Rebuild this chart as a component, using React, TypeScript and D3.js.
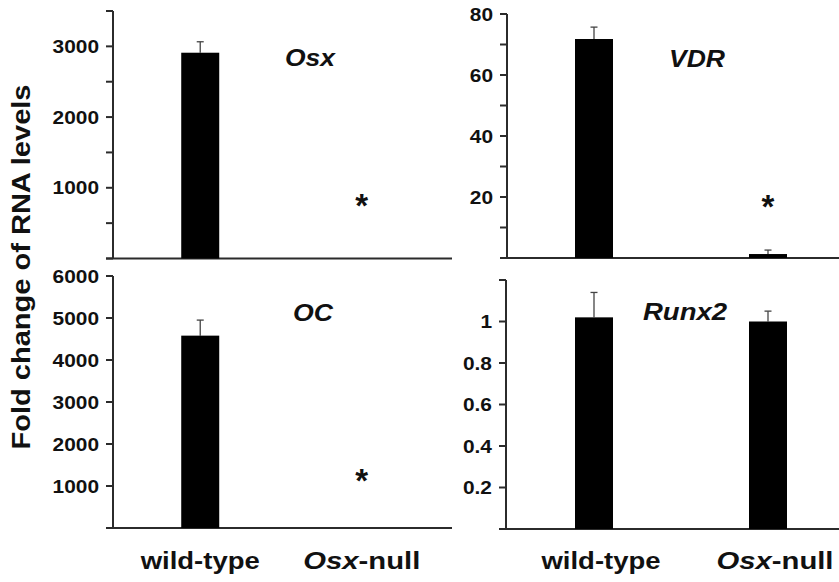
import React from "react";
import * as d3 from "d3";

const categories = ["wild-type", "Osx-null"];

const osxValues = [2910, 0];
const osxErrors = [155, 0];
const vdrValues = [71.8, 1.3];
const vdrErrors = [3.9, 1.3];
const ocValues = [4580, 0];
const ocErrors = [370, 0];
const runx2Values = [1.02, 1.0];
const runx2Errors = [0.12, 0.05];

const significant = {
  Osx: [false, true],
  VDR: [false, true],
  OC: [false, true],
  Runx2: [false, false],
};

const FONT = "'Liberation Sans', Arial, Helvetica, sans-serif";
const AXIS = "#2b2b2b";

type Panel = {
  key: string;
  values: number[];
  errors: number[];
  sig: boolean[];
  max: number;
  tickStep: number;
  labelStep: number;
  labelMax: boolean;
  axisX: number;
  axisEnd: number;
  range: [number, number];
  padding: number;
  yTop: number;
  yBase: number;
  titleX: number;
  titleY: number;
  titleLen: number;
  starOffset: number;
};

const panels: Panel[] = [
  {
    key: "Osx", values: osxValues, errors: osxErrors, sig: significant.Osx,
    max: 3500, tickStep: 500, labelStep: 1000, labelMax: false,
    axisX: 113, axisEnd: 452, range: [113, 449], padding: 0.54,
    yTop: 11, yBase: 258.5, titleX: 310, titleY: 66, titleLen: 50, starOffset: 59,
  },
  {
    key: "VDR", values: vdrValues, errors: vdrErrors, sig: significant.VDR,
    max: 80, tickStep: 10, labelStep: 20, labelMax: true,
    axisX: 507, axisEnd: 839, range: [507, 855], padding: 0.5,
    yTop: 14, yBase: 258, titleX: 697, titleY: 67, titleLen: 56, starOffset: 57,
  },
  {
    key: "OC", values: ocValues, errors: ocErrors, sig: significant.OC,
    max: 6000, tickStep: 1000, labelStep: 1000, labelMax: true,
    axisX: 113, axisEnd: 452, range: [113, 449], padding: 0.54,
    yTop: 276, yBase: 528, titleX: 313, titleY: 321, titleLen: 40, starOffset: 53,
  },
  {
    key: "Runx2", values: runx2Values, errors: runx2Errors, sig: significant.Runx2,
    max: 1.2, tickStep: 0.2, labelStep: 0.2, labelMax: false,
    axisX: 506, axisEnd: 839, range: [507, 855], padding: 0.5,
    yTop: 280, yBase: 529, titleX: 685, titleY: 320, titleLen: 84, starOffset: 50,
  },
];

const BAR_W = 38;
const fmt = (v: number) => String(+v.toFixed(2));

function PanelView({ p }: { p: Panel }) {
  const x = d3.scalePoint<string>().domain(categories).range(p.range).padding(p.padding);
  const y = d3.scaleLinear().domain([0, p.max]).range([p.yBase, p.yTop]);
  const n = Math.round(p.max / p.tickStep);
  const ticks = d3.range(0, n + 1).map((i) => +(i * p.tickStep).toFixed(4));
  const isLabeled = (t: number) => {
    if (t <= 0) return false;
    if (Math.abs(t - p.max) < 1e-9 && !p.labelMax) return false;
    return Math.abs(t / p.labelStep - Math.round(t / p.labelStep)) < 1e-6;
  };
  return (
    <g>
      {ticks.map((t) => (
        <g key={t}>
          <line x1={p.axisX - 7} x2={p.axisX} y1={y(t)} y2={y(t)} stroke={AXIS} strokeWidth={2} />
          {isLabeled(t) && (
            <text
              transform={`translate(${p.axisX - 14},${y(t)}) scale(1.13,1)`}
              textAnchor="end"
              dy="0.36em"
              fontFamily={FONT}
              fontWeight="bold"
              fontSize={18.5}
              fill="#111"
            >
              {fmt(t)}
            </text>
          )}
        </g>
      ))}
      <line x1={p.axisX} x2={p.axisX} y1={p.yTop} y2={p.yBase} stroke={AXIS} strokeWidth={2} />
      <line x1={p.axisX - 7} x2={p.axisEnd} y1={p.yBase} y2={p.yBase} stroke={AXIS} strokeWidth={2} />
      {categories.map((c, i) => {
        const cx = x(c)!;
        const v = p.values[i];
        const e = p.errors[i];
        return (
          <g key={c}>
            {v > 0 && (
              <>
                <line x1={cx} x2={cx} y1={y(v)} y2={y(v + e)} stroke="#444" strokeWidth={1.3} />
                <line x1={cx - 3.5} x2={cx + 3.5} y1={y(v + e)} y2={y(v + e)} stroke="#444" strokeWidth={1.3} />
                <rect x={cx - BAR_W / 2} y={y(v)} width={BAR_W} height={p.yBase - y(v)} fill="#000" />
              </>
            )}
            {p.sig[i] && (
              <text
                x={cx}
                y={p.yBase - p.starOffset + 17}
                textAnchor="middle"
                fontFamily={FONT}
                fontWeight="bold"
                fontSize={33}
                fill="#111"
              >
                *
              </text>
            )}
          </g>
        );
      })}
      <text
        x={p.titleX}
        y={p.titleY}
        textAnchor="middle"
        fontFamily={FONT}
        fontWeight="bold"
        fontStyle="italic"
        fontSize={23.5}
        textLength={p.titleLen}
        lengthAdjust="spacingAndGlyphs"
        fill="#111"
      >
        {p.key}
      </text>
    </g>
  );
}

function XLabels({ p, dx }: { p: Panel; dx: number }) {
  const x = d3.scalePoint<string>().domain(categories).range(p.range).padding(p.padding);
  return (
    <g>
      {categories.map((c) => {
        const isNull = c.startsWith("Osx");
        return (
          <text
            key={c}
            x={x(c)! + dx}
            y={569}
            textAnchor="middle"
            fontFamily={FONT}
            fontWeight="bold"
            fontSize={24}
            textLength={isNull ? 117 : 119}
            lengthAdjust="spacingAndGlyphs"
            fill="#111"
          >
            {isNull ? (
              <>
                <tspan fontStyle="italic">Osx</tspan>
                <tspan>-null</tspan>
              </>
            ) : (
              c
            )}
          </text>
        );
      })}
    </g>
  );
}

export default function App() {
  return (
    <svg
      width={839}
      height={582}
      style={{ position: "absolute", left: 0, top: 0, background: "#fff" }}
    >
      <rect width={839} height={582} fill="#fff" />
      {panels.map((p) => (
        <PanelView key={p.key} p={p} />
      ))}
      <XLabels p={panels[2]} dx={0} />
      <XLabels p={panels[3]} dx={7} />
      <text
        transform="translate(30,267) rotate(-90)"
        textAnchor="middle"
        fontFamily={FONT}
        fontWeight="bold"
        fontSize={26}
        textLength={365}
        lengthAdjust="spacingAndGlyphs"
        fill="#111"
      >
        Fold change of RNA levels
      </text>
    </svg>
  );
}
